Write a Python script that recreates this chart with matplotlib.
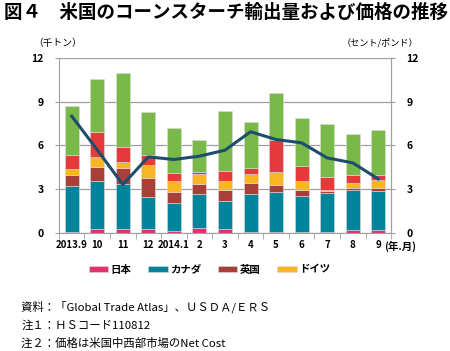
import numpy as np
import matplotlib.pyplot as plt
from matplotlib import rcParams

rcParams['font.family'] = ['Noto Sans CJK JP', 'DejaVu Sans']

months = ['2013.9', '10', '11', '12', '2014.1', '2', '3', '4', '5', '6', '7', '8', '9']

# 各国の輸出量（千トン）
japan   = [0.10, 0.27, 0.25, 0.25, 0.11, 0.32, 0.27, 0.07, 0.09, 0.07, 0.05, 0.20, 0.18]
canada  = [3.13, 3.33, 3.12, 2.22, 1.97, 2.38, 1.93, 2.63, 2.73, 2.49, 2.70, 2.78, 2.68]
uk      = [0.75, 0.93, 1.10, 1.31, 0.76, 0.69, 0.75, 0.73, 0.48, 0.39, 0.11, 0.09, 0.23]
germany = [0.39, 0.69, 0.38, 0.89, 0.73, 0.66, 0.62, 0.60, 0.89, 0.65, 0.12, 0.34, 0.53]
other1  = [0.99, 1.72, 1.06, 0.67, 0.57, 0.14, 0.71, 0.46, 2.18, 1.00, 0.87, 0.57, 0.34]
other2  = [3.34, 3.59, 5.06, 2.93, 3.07, 2.22, 4.10, 3.09, 3.20, 3.28, 3.64, 2.80, 3.09]

# 価格（セント/ポンド）
price = [8.01, 5.70, 3.32, 5.22, 5.04, 5.27, 5.68, 6.94, 6.41, 6.18, 5.15, 4.81, 3.71]

fig = plt.figure(figsize=(4.5, 3.51), dpi=100)
ax = fig.add_axes([0.131, 0.336, 0.738, 0.499])

x = np.arange(len(months))
series = [japan, canada, uk, germany, other1, other2]
colors = ['#e4306e', '#00849b', '#a83f39', '#f8b624', '#e6393a', '#79b94a']
names = ['日本', 'カナダ', '英国', 'ドイツ', None, None]
bottom = np.zeros(len(months))
handles = []
for vals, c, n in zip(series, colors, names):
    b = ax.bar(x, vals, 0.55, bottom=bottom, color=c, edgecolor='#dcdcdc', linewidth=0.4, zorder=2)
    if n:
        handles.append((b, n))
    bottom += np.array(vals)

ax.set_xlim(-0.5, len(months) - 0.5)
ax.set_ylim(0, 12)
ax.set_yticks([0, 3, 6, 9, 12])
ax.grid(axis='y', color='#a0a0a0', linewidth=0.9, zorder=0)
ax.spines['top'].set_visible(False)
for s in ['left', 'right', 'bottom']:
    ax.spines[s].set_color('#a0a0a0')
ax.set_xticks(x)
ax.set_xticklabels(months, fontsize=7, fontweight='bold')
ax.tick_params(axis='x', length=0, pad=5)
ax.set_xticks(np.arange(-0.5, len(months), 1), minor=True)
ax.tick_params(axis='x', which='minor', length=4, color='#a0a0a0')
ax.tick_params(axis='y', length=3, color='#a0a0a0', labelsize=7.5, pad=8)
for t in ax.get_yticklabels():
    t.set_fontweight('bold')

ax2 = ax.twinx()
ax2.plot(x, price, color='#1e4d6b', linewidth=2.2, zorder=3)
ax2.set_ylim(0, 12)
ax2.set_yticks([0, 3, 6, 9, 12])
ax2.tick_params(axis='y', length=3, color='#a0a0a0', labelsize=7.5, pad=8)
for t in ax2.get_yticklabels():
    t.set_fontweight('bold')
for s in ['top', 'left', 'bottom']:
    ax2.spines[s].set_visible(False)
ax2.spines['right'].set_color('#a0a0a0')

fig.text(0.01, 0.965, '図４　米国のコーンスターチ輸出量および価格の推移', fontsize=13.3, fontweight='bold', va='center')
fig.text(0.075, 0.877, '（千トン）', fontsize=7, va='center')
fig.text(0.93, 0.877, '（セント/ポンド）', fontsize=6.6, va='center', ha='right')
fig.text(0.853, 0.298, '(年.月)', fontsize=7.5, fontweight='bold', va='center')

leg = fig.legend([h for h, n in handles], [n for h, n in handles], loc='center', bbox_to_anchor=(0.465, 0.232),
                 ncol=4, frameon=False, fontsize=7.5, handlelength=1.9, handleheight=0.5, columnspacing=1.6,
                 handletextpad=0.2)
for t in leg.get_texts():
    t.set_fontweight('bold')

notes = ['資料：「Global Trade Atlas」、ＵＳＤＡ/ＥＲＳ', '注１：ＨＳコード110812', '注２：価格は米国中西部市場のNet Cost']
for i, s in enumerate(notes):
    fig.text(0.047, 0.125 - i * 0.051, s, fontsize=8.2, va='center')

fig.savefig('out.png', dpi=100)
